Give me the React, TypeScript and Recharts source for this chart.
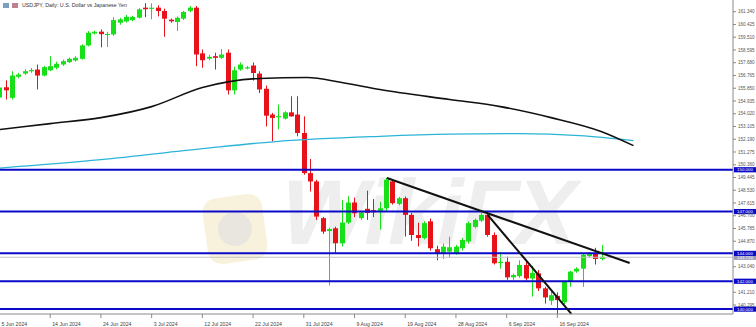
import React from 'react';
import { ComposedChart, Bar, Line, XAxis, YAxis, ReferenceLine } from 'recharts';

// USDJPY daily candles, index 0 = 5 Jun 2024
const opens = [
  155.18, 155.92, 155.16, 156.67, 156.9, 157.1, 157.19, 156.76, 157.14, 157.32,
  157.55, 157.72, 157.84, 157.96, 158.92, 159.78, 159.91, 159.7, 159.71, 160.55,
  160.64, 160.74, 160.91, 161.63, 161.55, 161.63, 161.39, 160.77, 160.6, 160.84,
  161.4, 161.63, 158.35, 157.97, 158.15, 158.03, 158.4, 155.7, 157.19, 157.3,
  157.48, 156.9, 155.81, 153.96, 153.78, 153.67, 154.12, 153.96, 152.64, 149.76,
  149.16, 146.53, 145.6, 145.8, 144.73, 146.21, 147.65, 146.53, 147.2, 147.1,
  147.0, 147.24, 149.16, 147.55, 147.96, 146.76, 145.32, 145.1, 146.3, 144.3,
  144.0, 144.12, 144.0, 144.37, 144.85, 145.9, 146.35, 146.76, 145.32, 143.3,
  143.4, 142.28, 142.37, 143.17, 142.2, 142.57, 141.49, 140.6, 140.95, 140.5,
  141.97, 142.7, 142.9, 143.8, 144.0, 143.6,
];
const highs = [
  155.95, 156.42, 157.07, 156.95, 157.2, 157.3, 157.55, 157.45, 158.15, 157.75,
  157.9, 158.05, 158.15, 159.0, 159.95, 159.98, 160.07, 159.9, 160.95, 160.9,
  161.1, 161.05, 161.6, 161.95, 161.94, 161.8, 161.56, 160.85, 161.0, 161.4,
  161.75, 161.75, 158.63, 158.25, 158.4, 158.66, 158.63, 157.4, 157.7, 157.45,
  157.7, 157.07, 156.04, 154.08, 154.68, 154.2, 155.27, 155.27, 153.83, 150.77,
  149.28, 146.6, 145.85, 145.92, 147.84, 148.1, 148.0, 147.05, 148.5, 147.9,
  147.7, 149.42, 149.3, 148.05, 148.08, 146.9, 146.2, 146.3, 146.5, 144.55,
  144.7, 145.2, 144.6, 145.1, 146.3, 146.5, 146.9, 147.0, 145.5, 144.1,
  143.77, 142.55, 143.5, 143.4, 143.1, 142.8, 141.6, 141.4, 141.2, 142.05,
  142.75, 143.0, 144.0, 144.1, 144.4, 144.6,
];
const lows = [
  155.0, 155.04, 155.04, 156.55, 156.8, 156.95, 155.76, 156.7, 157.07, 157.2,
  157.45, 157.65, 157.75, 157.9, 158.85, 159.7, 158.78, 158.8, 159.6, 160.4,
  160.55, 160.65, 160.85, 160.95, 160.79, 161.0, 159.54, 160.55, 159.95, 160.75,
  161.3, 157.43, 157.32, 157.85, 157.19, 157.95, 155.4, 155.4, 157.1, 157.2,
  156.4, 155.5, 153.11, 152.04, 152.9, 153.6, 153.8, 152.4, 149.64, 148.44,
  146.4, 145.4, 141.7, 144.0, 144.5, 146.1, 146.6, 146.4, 146.4, 146.6,
  145.7, 147.0, 147.5, 147.45, 145.2, 144.9, 144.5, 145.0, 144.2, 143.5,
  143.6, 143.7, 143.9, 144.2, 144.7, 145.8, 146.25, 145.2, 143.2, 142.9,
  142.1, 142.1, 142.25, 142.05, 140.9, 141.3, 140.4, 140.3, 139.6, 140.35,
  141.6, 142.6, 141.6, 143.7, 143.2, 143.5,
];
const closes = [
  155.9, 155.7, 156.76, 156.83, 157.07, 157.15, 156.76, 157.36, 157.43, 157.6,
  157.79, 157.96, 158.03, 158.92, 159.83, 159.9, 159.73, 159.75, 160.74, 160.79,
  160.97, 160.97, 161.51, 161.52, 161.63, 161.39, 160.84, 160.65, 160.91, 161.32,
  161.63, 158.27, 157.86, 158.1, 158.03, 158.27, 155.7, 157.14, 157.55, 157.35,
  156.94, 155.76, 153.88, 153.72, 153.85, 154.12, 153.83, 152.64, 149.76, 149.16,
  146.64, 145.56, 145.75, 144.73, 146.21, 147.65, 146.88, 146.93, 146.9, 146.95,
  147.24, 149.28, 147.6, 147.96, 146.76, 145.32, 145.1, 146.17, 144.37, 144.0,
  144.48, 144.44, 144.48, 144.96, 146.17, 146.4, 146.76, 145.32, 143.29, 143.4,
  142.28, 142.45, 143.17, 142.2, 142.6, 141.49, 140.84, 141.0, 140.65, 141.97,
  142.69, 142.9, 143.9, 144.0, 143.6, 143.75,
];

const tickIdx = [0, 8, 16, 24, 32, 40, 48, 56, 64, 72, 80, 88];
const tickLabels = [
  '5 Jun 2024', '14 Jun 2024', '24 Jun 2024', '3 Jul 2024', '12 Jul 2024', '22 Jul 2024',
  '31 Jul 2024', '9 Aug 2024', '19 Aug 2024', '28 Aug 2024', '6 Sep 2024', '16 Sep 2024',
];
// 143.955 and 142.125 sit under the level tags, so they are not shown
const priceTicks = [
  140.295, 141.21, 143.04, 144.87, 145.785, 146.7, 147.615, 148.53,
  149.445, 150.36, 151.275, 152.19, 153.105, 154.02, 154.935, 155.85, 156.765, 157.68,
  158.595, 159.51, 160.425, 161.34,
];

// moving averages at a few bars
const maSlowIdx = [0, 8, 16, 24, 32, 41, 48.5, 54, 60, 71, 79, 87, 95, 100];
const maSlowVal = [152.88, 153.31, 153.74, 154.53, 155.9, 156.55, 156.62, 156.26, 155.76, 155.04, 154.53, 153.74, 152.73, 151.73];
const maLongIdx = [0, 16, 32, 44, 60, 71, 82, 91.5, 100];
const maLongVal = [150.12, 150.72, 151.51, 152.04, 152.4, 152.55, 152.59, 152.45, 152.09];

const levels = [150, 147, 144, 142, 140];
const bidPrice = 143.72;
const trendA = [{ x: 61.1, y: 149.41 }, { x: 99.4, y: 143.31 }];
const trendB = [{ x: 77.0, y: 146.76 }, { x: 90.2, y: 139.66 }];

const BULL = '#18e018';
const BEAR = '#e8121b';
const LEVEL = '#0a0ac8';

const candles = opens.map((o, i) => ({ i, o, h: highs[i], l: lows[i], c: closes[i] }));
const maSlow = maSlowIdx.map((i, k) => ({ i, v: maSlowVal[k] }));
const maLong = maLongIdx.map((i, k) => ({ i, v: maLongVal[k] }));

const Candle = (props: any) => {
  const { x, y, width, height, payload } = props;
  const { o, h, l, c } = payload;
  const top = Math.min(y, y + height);
  const hgt = Math.abs(height);
  const k = h - l > 0 ? hgt / (h - l) : 0;
  const yO = top + (h - o) * k;
  const yC = top + (h - c) * k;
  const col = c >= o ? BULL : BEAR;
  const cx = Math.round(x + width / 2) + 0.5;
  return (
    <g>
      <line x1={cx} x2={cx} y1={top} y2={top + hgt} stroke={col} strokeWidth={1} />
      <rect x={cx - 2.5} y={Math.min(yO, yC)} width={5} height={Math.max(1.2, Math.abs(yO - yC))} fill={col} />
    </g>
  );
};

const XTick = (props: any) => {
  const { x, y, payload } = props;
  const label = tickLabels[tickIdx.indexOf(payload.value)];
  return (
    <text x={x + 2} y={y + 6} fontSize={5.2} fill="#444" textAnchor="start" fontFamily="Liberation Sans, Arial">
      {label}
    </text>
  );
};

const Tag = (props: any) => {
  const { viewBox, text, bg } = props;
  const { x, y, width } = viewBox;
  return (
    <g>
      <rect x={x + width + 1} y={y - 2.6} width={22} height={5.2} fill={bg} />
      <text x={x + width + 12} y={y + 1.6} fontSize={4.4} fill="#fff" textAnchor="middle" fontFamily="Liberation Sans, Arial">
        {text}
      </text>
    </g>
  );
};

export default function App() {
  return (
    <div style={{ position: 'absolute', left: 0, top: 0, width: 756, height: 327, background: '#fff', fontFamily: 'Liberation Sans, Arial' }}>
      {/* watermark */}
      <div style={{ position: 'absolute', left: 205, top: 196, width: 60, height: 66, borderRadius: 14, background: '#f8f1dc', transform: 'rotate(-8deg)' }} />
      <div style={{ position: 'absolute', left: 218, top: 212, width: 34, height: 34, borderRadius: 17, background: '#e9e6e0' }} />
      <div style={{ position: 'absolute', left: 282, top: 160, fontSize: 92, fontWeight: 700, color: '#eeeeee', transform: 'skewX(-12deg)', letterSpacing: -2 }}>
        WikiFX
      </div>
      <div style={{ position: 'absolute', left: 0, top: 0 }}>
        <ComposedChart width={756} height={327} data={candles} margin={{ top: 0, right: 0, bottom: 0, left: 0 }}>
          <XAxis
            dataKey="i"
            type="number"
            domain={[0.08, 115.7]}
            allowDataOverflow
            ticks={tickIdx}
            interval={0}
            tick={<XTick />}
            tickSize={4}
            height={13}
            stroke="#8a8a8a"
          />
          <YAxis
            orientation="right"
            type="number"
            domain={[139.65, 162.18]}
            allowDataOverflow
            ticks={priceTicks}
            interval={0}
            width={23}
            tickSize={3}
            stroke="#8a8a8a"
            tick={{ fontSize: 4.6, fill: '#555', fontFamily: 'Liberation Sans, Arial' }}
            tickFormatter={(v: number) => v.toFixed(3)}
          />
          <Line data={maLong} dataKey="v" type="monotone" stroke="#2cb4d8" strokeWidth={1.3} dot={false} isAnimationActive={false} />
          <Line data={maSlow} dataKey="v" type="monotone" stroke="#111" strokeWidth={1.6} dot={false} isAnimationActive={false} />
          <Bar dataKey={(d: any) => [d.l, d.h]} barSize={5} shape={<Candle />} isAnimationActive={false} />
          <ReferenceLine y={bidPrice} stroke="#c4c4c4" strokeWidth={1} label={(p: any) => <Tag {...p} text={bidPrice.toFixed(3)} bg="#9a9ab8" />} />
          {levels.map((lv) => (
            <ReferenceLine
              key={lv}
              y={lv}
              stroke={LEVEL}
              strokeWidth={2}
              label={(p: any) => <Tag {...p} text={lv.toFixed(3)} bg={LEVEL} />}
            />
          ))}
          <ReferenceLine segment={trendA} stroke="#111" strokeWidth={2} ifOverflow="visible" />
          <ReferenceLine segment={trendB} stroke="#111" strokeWidth={2} ifOverflow="visible" />
        </ComposedChart>
      </div>
      {/* title */}
      <div style={{ position: 'absolute', left: 3, top: 3, width: 6, height: 5, background: '#7f9fc0' }} />
      <div style={{ position: 'absolute', left: 12, top: 3, width: 6, height: 5, background: '#c08090' }} />
      <div style={{ position: 'absolute', left: 22, top: 2, fontSize: 5.3, color: '#333', whiteSpace: 'nowrap' }}>
        USDJPY, Daily: U.S. Dollar vs Japanese Yen
      </div>
    </div>
  );
}
